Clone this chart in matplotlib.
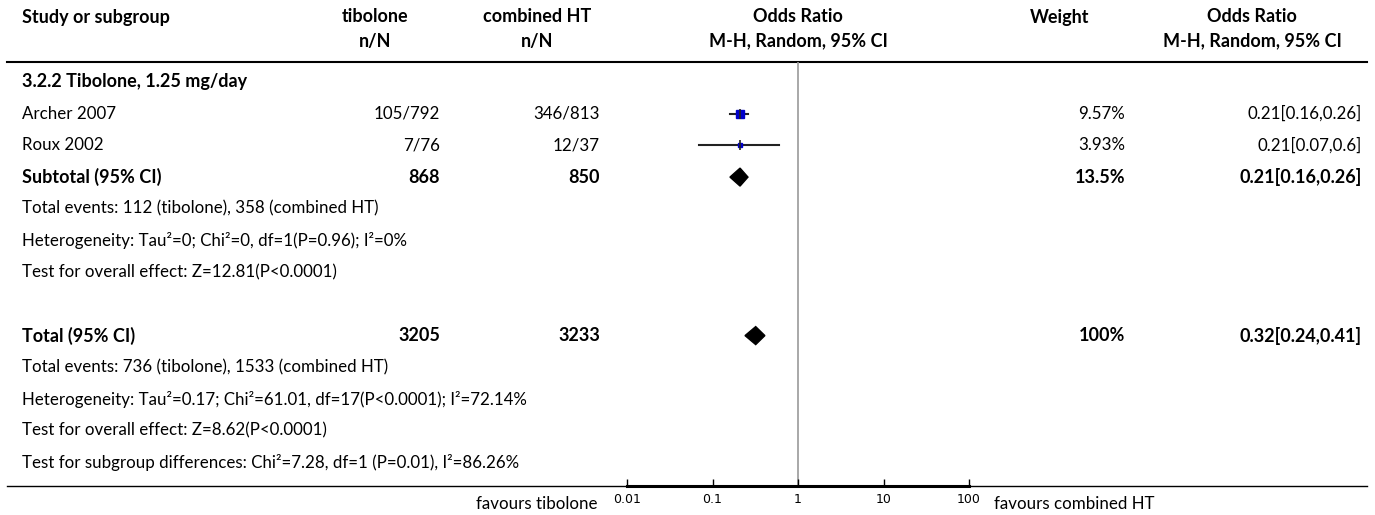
import matplotlib
matplotlib.use("Agg")
import matplotlib.pyplot as plt

# --- data ---
subgroup_title = "3.2.2 Tibolone, 1.25 mg/day"
studies = ["Archer 2007", "Roux 2002"]
tib_events = [105, 7]
tib_totals = [792, 76]
cht_events = [346, 12]
cht_totals = [813, 37]
or_est = [0.21, 0.21]
or_lo = [0.16, 0.07]
or_hi = [0.26, 0.6]
weights = [9.57, 3.93]

sub_n = [868, 850]
sub_weight = "13.5%"
sub_or = [0.21, 0.16, 0.26]
sub_notes = ["Total events: 112 (tibolone), 358 (combined HT)",
             "Heterogeneity: Tau\u00b2=0; Chi\u00b2=0, df=1(P=0.96); I\u00b2=0%",
             "Test for overall effect: Z=12.81(P<0.0001)"]

tot_n = [3205, 3233]
tot_weight = "100%"
tot_or = [0.32, 0.24, 0.41]
tot_notes = ["Total events: 736 (tibolone), 1533 (combined HT)",
             "Heterogeneity: Tau\u00b2=0.17; Chi\u00b2=61.01, df=17(P<0.0001); I\u00b2=72.14%",
             "Test for overall effect: Z=8.62(P<0.0001)",
             "Test for subgroup differences: Chi\u00b2=7.28, df=1 (P=0.01), I\u00b2=86.26%"]

ticks = [0.01, 0.1, 1, 10, 100]
tick_labels = ["0.01", "0.1", "1", "10", "100"]
left_label = "favours tibolone"
right_label = "favours combined HT"

# --- layout (pixels) ---
W, H = 1375, 515
FONT = "Lato"
FS, FS_B = 12.2, 13.0
BLUE = "#0000CC"


def row_y(i):
    return 82 + 31.7 * i


def fmt_or(v):
    return f"{v[0]:g}[{v[1]:g},{v[2]:g}]"


fig = plt.figure(figsize=(W / 100, H / 100), dpi=100)
ax = fig.add_axes([0, 0, 1, 1])
ax.set_xlim(0, W); ax.set_ylim(H, 0); ax.axis("off")


def txt(x, y, s, ha="left", bold=False):
    ax.text(x, y, s, ha=ha, va="center", fontsize=FS_B if bold else FS, family=FONT,
            fontweight="bold" if bold else "normal")


# header
X_STUDY, X_TIB_C, X_TIB_R, X_CHT_C, X_CHT_R = 22, 375, 440, 537, 600
X_OR_C, X_W_C, X_W_R, X_ORT_C, X_ORT_R = 798, 1060, 1125, 1252, 1362
for x, a, b in [(X_STUDY, "Study or subgroup", None), (X_TIB_C, "tibolone", "n/N"),
                (X_CHT_C, "combined HT", "n/N"), (X_OR_C, "Odds Ratio", "M-H, Random, 95% CI"),
                (X_W_C, "Weight", None), (X_ORT_C, "Odds Ratio", "M-H, Random, 95% CI")]:
    ha = "left" if x == X_STUDY else "center"
    txt(x, 17, a, ha=ha, bold=True)
    if b:
        txt(x, 41, b, ha=ha, bold=True)
ax.plot([7, 1367], [62, 62], color="black", lw=1.5)
ax.plot([7, 1367], [486, 486], color="black", lw=1.0)

# subgroup rows
txt(X_STUDY, row_y(0), subgroup_title, bold=True)
for k, name in enumerate(studies):
    y = row_y(1 + k)
    txt(X_STUDY, y, name)
    txt(X_TIB_R, y, f"{tib_events[k]}/{tib_totals[k]}", ha="right")
    txt(X_CHT_R, y, f"{cht_events[k]}/{cht_totals[k]}", ha="right")
    txt(X_W_R, y, f"{weights[k]:.2f}%", ha="right")
    txt(X_ORT_R, y, fmt_or([or_est[k], or_lo[k], or_hi[k]]), ha="right")

y = row_y(3)
txt(X_STUDY, y, "Subtotal (95% CI)", bold=True)
txt(X_TIB_R, y, str(sub_n[0]), ha="right", bold=True)
txt(X_CHT_R, y, str(sub_n[1]), ha="right", bold=True)
txt(X_W_R, y, sub_weight, ha="right", bold=True)
txt(X_ORT_R, y, fmt_or(sub_or), ha="right", bold=True)
for k, s in enumerate(sub_notes):
    txt(X_STUDY, row_y(4 + k), s)

y = row_y(8)
txt(X_STUDY, y, "Total (95% CI)", bold=True)
txt(X_TIB_R, y, str(tot_n[0]), ha="right", bold=True)
txt(X_CHT_R, y, str(tot_n[1]), ha="right", bold=True)
txt(X_W_R, y, tot_weight, ha="right", bold=True)
txt(X_ORT_R, y, fmt_or(tot_or), ha="right", bold=True)
for k, s in enumerate(tot_notes):
    txt(X_STUDY, row_y(9 + k), s)

txt(598, 504, left_label, ha="right")
txt(994, 504, right_label)

# --- forest panel ---
FX0, FX1, FY0, FY1 = 627, 969, 62, 486
fx = fig.add_axes([FX0 / W, 1 - FY1 / H, (FX1 - FX0) / W, (FY1 - FY0) / H])
fx.set_xscale("log")
fx.set_xlim(ticks[0], ticks[-1])
fx.set_ylim(FY1, FY0)
fx.patch.set_alpha(0)
for s in ["left", "right", "top"]:
    fx.spines[s].set_visible(False)
fx.spines["bottom"].set_linewidth(2.2)
fx.set_yticks([])
fx.set_xticks(ticks)
fx.set_xticklabels(tick_labels)
fx.minorticks_off()
fx.tick_params(axis="x", direction="in", length=5, width=1, pad=5,
               labelsize=9)
fx.axvline(1, color="#999999", lw=1.2, zorder=1)

for k in range(len(studies)):
    y = row_y(1 + k)
    fx.plot([or_lo[k], or_hi[k]], [y, y], color="#222222", lw=1.5, zorder=2)
    fx.plot(or_est[k], y, marker="s", color=BLUE, ms=1.7 * weights[k] ** 0.5,
            mec=BLUE, zorder=3, linestyle="none")
    fx.plot(or_est[k], y, marker="|", color="#222222", ms=7, mew=1.2, zorder=4)

for r, (est, lo, hi) in [(3, sub_or), (8, tot_or)]:
    y = row_y(r)
    fx.fill([lo, est, hi, est], [y, y - 9, y, y + 9], color="black", zorder=3)

fig.savefig("out.png", dpi=100)
